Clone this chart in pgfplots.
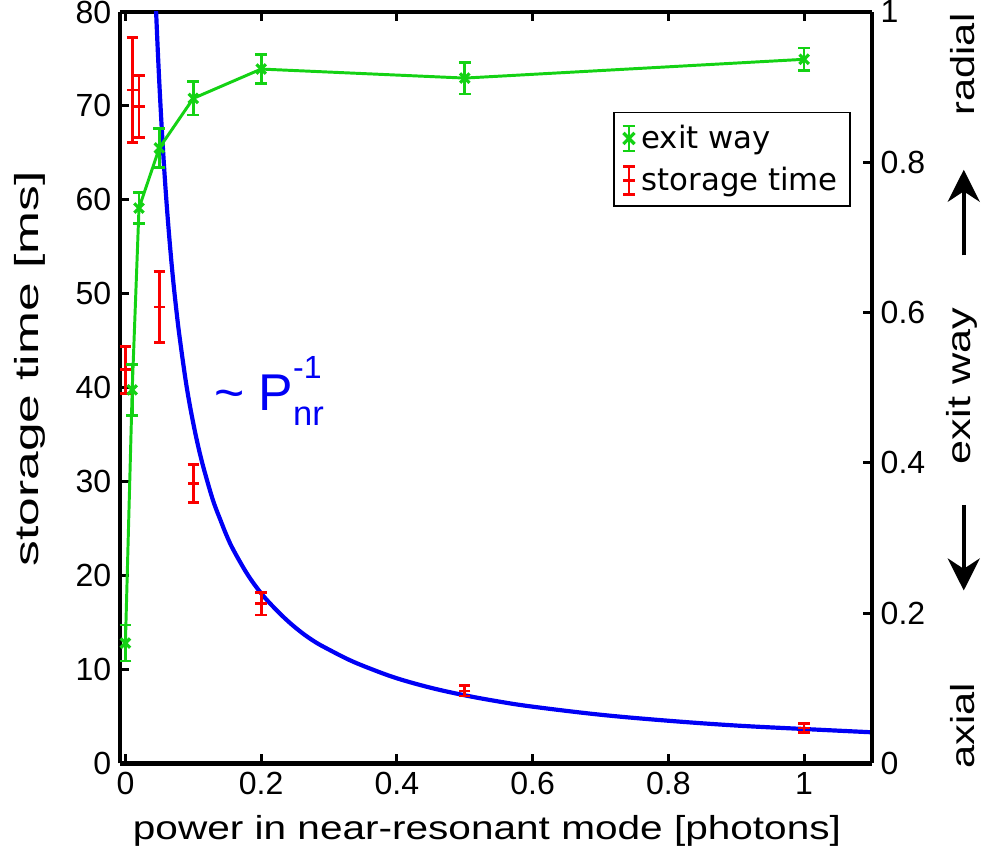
\documentclass[border=0pt]{standalone}
\usepackage{fontspec}
\setmainfont{Liberation Sans}
\newfontfamily\legfont{DejaVu Sans}
\usepackage{graphicx}
\usepackage{pgfplots}
\pgfplotsset{compat=1.18}
\usetikzlibrary{arrows.meta}

\definecolor{exitgreen}{RGB}{20,210,20}
\definecolor{fitblue}{RGB}{0,0,245}
\definecolor{storred}{RGB}{250,0,0}

\pgfplotsset{
  common/.style={
    scale only axis,
    width=10.73cm, height=10.72cm,
    xmin=-0.008, xmax=1.1,
    tick align=inside,
    major tick length=0.13cm,
    axis line style={line width=1.8pt},
    every tick/.style={black, line width=1.2pt},
    /pgf/number format/assume math mode=true,
    tick label style={font=\fontsize{13}{13}\selectfont},
  }
}

\begin{document}
\begin{tikzpicture}
\begin{axis}[common, name=main,
    ymin=0, ymax=80, ytick={0,10,...,80},
    xtick={0,0.2,0.4,0.6,0.8,1},
    axis y line*=left,
    xlabel={\scalebox{1.22}[1]{\fontsize{13.5}{14}\selectfont power in near-resonant mode [photons]}},
    xlabel style={at={(rel axis cs:0.488,-0.0905)}, anchor=center},
    ylabel={\scalebox{1.55}[1]{\fontsize{13.5}{14}\selectfont storage time [ms]}},
    ylabel style={at={(rel axis cs:-0.1197,0.525)}, anchor=center},
]
% fit curve
\addplot[fitblue, line width=1.7pt, smooth, tension=0.6] coordinates {
  (0.043,84.2) (0.046,78.7) (0.05,72.4) (0.055,65.8) (0.06,60.3) (0.065,55.7)
  (0.07,51.7) (0.075,48.3) (0.08,45.3) (0.09,40.2) (0.1,36.2) (0.11,32.9)
  (0.12,30.2) (0.13,27.8) (0.14,25.9) (0.15,24.1) (0.16,22.6) (0.18,20.1)
  (0.2,18.1) (0.22,16.5) (0.24,15.1) (0.26,13.9) (0.28,12.9) (0.3,12.1)
  (0.33,11.0) (0.36,10.1) (0.4,9.05) (0.45,8.04) (0.5,7.24) (0.55,6.58)
  (0.6,6.03) (0.7,5.17) (0.8,4.53) (0.9,4.02) (1.0,3.65) (1.1,3.30)
};
\addplot[storred, only marks, mark=-, mark size=2.3pt, mark options={line width=1.1pt},
  error bars/.cd, y dir=both, y explicit,
  error bar style={line width=1.1pt},
  error mark options={rotate=90, mark size=2.3pt, line width=1.1pt}]
  coordinates {
  (0,41.9) +- (0,2.5)
  (0.01,71.7) +- (0,5.6)
  (0.02,69.9) +- (0,3.3)
  (0.05,48.6) +- (0,3.8)
  (0.1,29.8) +- (0,2.0)
  (0.2,17.0) +- (0,1.2)
  (0.5,7.7) +- (0,0.55)
  (1,3.75) +- (0,0.45)
};
\node[anchor=base west, text=fitblue, inner sep=0pt] at (axis cs:0.13,37.6)
  {\fontsize{21}{21}\selectfont\textasciitilde\ P\makebox[0pt][l]{\raisebox{0.62em}{\fontsize{13}{13}\selectfont -1}}\raisebox{-0.3em}{\fontsize{14}{14}\selectfont nr}};
\end{axis}

\begin{axis}[common, clip=false,
    ymin=0, ymax=1, ytick={0,0.2,...,1},
    axis y line*=right, axis x line=none,
    legend style={at={(0.972,0.867)}, anchor=north east, draw=black, line width=0.6pt,
      font=\legfont\fontsize{12.5}{14}\selectfont, cells={anchor=west},
      inner xsep=3pt, inner ysep=3pt, row sep=2pt},
]
\addplot[exitgreen, line width=1.2pt, mark=x, mark size=2.7pt, mark options={line width=1.3pt},
  legend image code/.code={
    \draw[exitgreen, line width=1.1pt] (0.15cm,-0.18cm) -- (0.15cm,0.18cm)
      (0.06cm,-0.18cm) -- (0.24cm,-0.18cm) (0.06cm,0.18cm) -- (0.24cm,0.18cm);
    \draw[exitgreen, line width=1.3pt] (0.07cm,-0.08cm) -- (0.23cm,0.08cm)
      (0.07cm,0.08cm) -- (0.23cm,-0.08cm);},
  error bars/.cd, y dir=both, y explicit,
  error bar style={line width=1.1pt},
  error mark options={rotate=90, mark size=2.4pt, line width=1.1pt}]
  coordinates {
  (0,0.160) +- (0,0.024)
  (0.01,0.497) +- (0,0.034)
  (0.02,0.739) +- (0,0.021)
  (0.05,0.819) +- (0,0.026)
  (0.1,0.885) +- (0,0.022)
  (0.2,0.924) +- (0,0.019)
  (0.5,0.912) +- (0,0.021)
  (1,0.937) +- (0,0.015)
};
\addlegendentry{exit way}
\addlegendimage{legend image code/.code={
  \draw[storred, line width=1.1pt] (0.15cm,-0.2cm) -- (0.15cm,0.2cm)
    (0.07cm,-0.2cm) -- (0.23cm,-0.2cm) (0.07cm,0.2cm) -- (0.23cm,0.2cm)
    (0.07cm,0cm) -- (0.23cm,0cm);}}
\addlegendentry{storage time}

\node[rotate=90, anchor=center] at (rel axis cs:1.12,0.93)
  {\scalebox{1.25}[1]{\fontsize{13.5}{14}\selectfont radial}};
\node[rotate=90, anchor=center] at (rel axis cs:1.12,0.502)
  {\scalebox{1.3}[1]{\fontsize{13.5}{14}\selectfont exit way}};
\node[rotate=90, anchor=center] at (rel axis cs:1.12,0.05)
  {\scalebox{1.25}[1]{\fontsize{13.5}{14}\selectfont axial}};
\draw[-{Stealth[length=13pt, width=13pt]}, line width=1.6pt]
  (rel axis cs:1.122,0.676) -- (rel axis cs:1.122,0.79);
\draw[-{Stealth[length=13pt, width=13pt]}, line width=1.6pt]
  (rel axis cs:1.122,0.344) -- (rel axis cs:1.122,0.23);
\end{axis}

\pgfresetboundingbox
\path ([xshift=-1.712cm,yshift=-1.256cm]main.south west)
  rectangle ([xshift=1.555cm,yshift=0.171cm]main.north east);
\end{tikzpicture}
\end{document}
